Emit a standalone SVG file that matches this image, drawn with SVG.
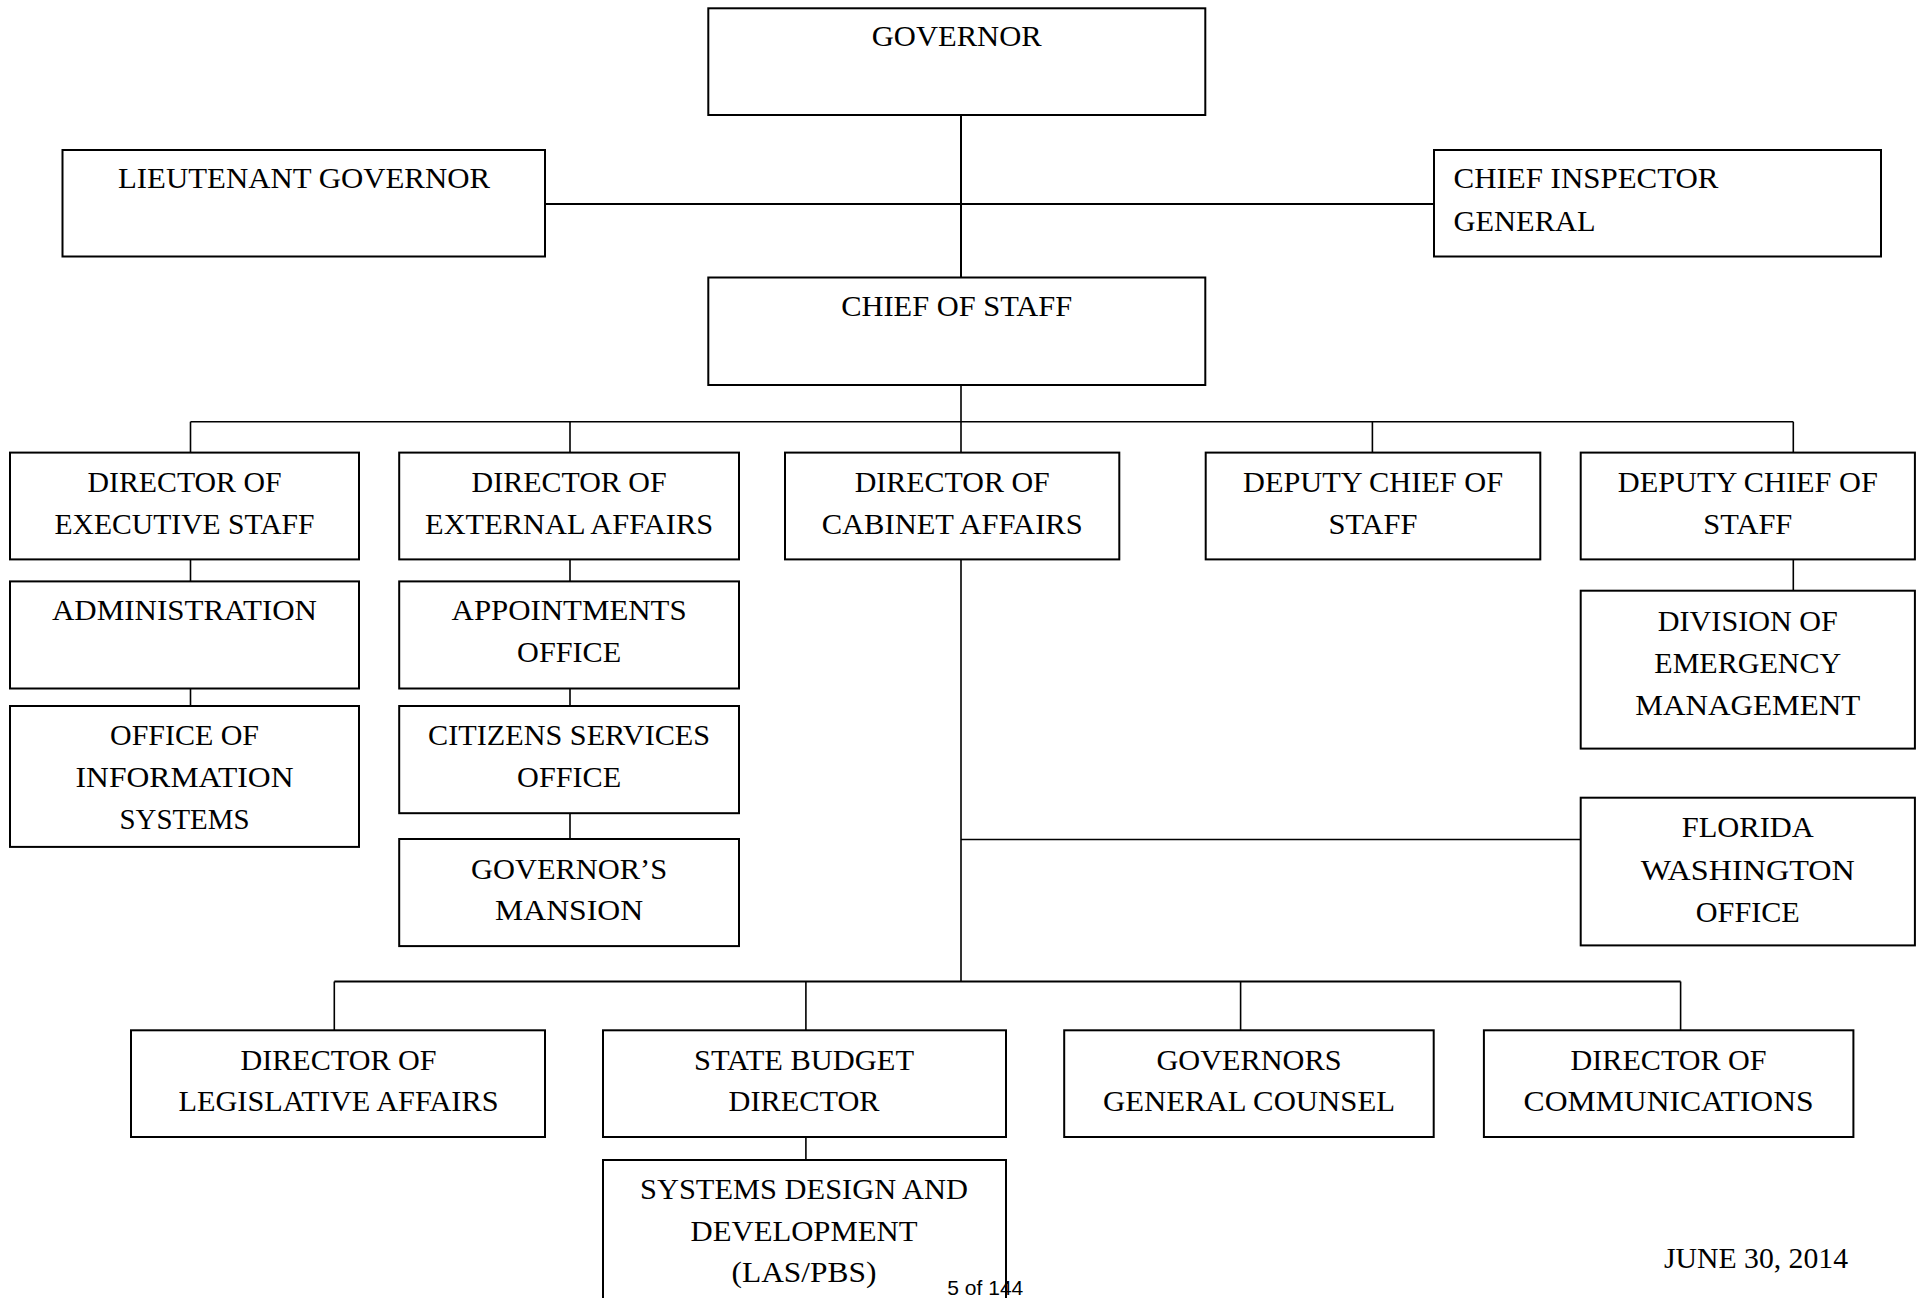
<svg xmlns="http://www.w3.org/2000/svg" width="1921" height="1298" viewBox="0 0 1921 1298">
  <style>
    .box { fill: #ffffff; stroke: #000000; stroke-width: 2; }
    .lbl { font-family: "Liberation Serif", "Times New Roman", serif; font-size: 29px; fill: #000000; text-anchor: middle; }
    .left { text-anchor: start; }
    .wire { fill: none; stroke: #000000; stroke-width: 1.6; }
    .wire-bold { fill: none; stroke: #000000; stroke-width: 2; }
    .page { font-family: "Liberation Sans", Arial, sans-serif; font-size: 21px; fill: #000000; }
  </style>
  <rect width="1921" height="1298" fill="#ffffff"/>

  <!-- connectors -->
  <g id="connectors">
    <path class="wire-bold" d="M961 115 V277.5 M545 204 H1434"/>
    <path class="wire" d="M961 385 V421.7 M190.5 421.7 H1793.3 M190.5 421.7 V452.6 M570 421.7 V452.6 M961 421.7 V452.6 M1372.4 421.7 V452.6 M1793.3 421.7 V452.6"/>
    <path class="wire" d="M190.5 559.4 V581.4 M190.5 688.5 V706"/>
    <path class="wire" d="M570 559.4 V581.4 M570 688.5 V706 M570 813.2 V839"/>
    <path class="wire" d="M1793.3 559.4 V590.7"/>
    <path class="wire" d="M961 559.4 V981.5 M961 839.5 H1580.7"/>
    <path class="wire-bold" d="M334.3 981.5 H1680.6"/>
    <path class="wire" d="M334.3 981.5 V1030.3 M805.9 981.5 V1030.3 M1240.6 981.5 V1030.3 M1680.6 981.5 V1030.3 M805.9 1137 V1160"/>
  </g>

  <!-- top level -->
  <g id="governor">
    <rect class="box" x="708.3" y="8.3" width="497" height="106.7"/>
    <text class="lbl" x="956.7" y="46" textLength="170" lengthAdjust="spacingAndGlyphs">GOVERNOR</text>
  </g>
  <g id="lieutenant-governor">
    <rect class="box" x="62.5" y="150" width="482.5" height="106.5"/>
    <text class="lbl" x="304" y="188" textLength="372" lengthAdjust="spacingAndGlyphs">LIEUTENANT GOVERNOR</text>
  </g>
  <g id="chief-inspector-general">
    <rect class="box" x="1434" y="150" width="447" height="106.5"/>
    <text class="lbl left" x="1453.5" y="188" textLength="265" lengthAdjust="spacingAndGlyphs">CHIEF INSPECTOR</text>
    <text class="lbl left" x="1453.5" y="230.5" textLength="142" lengthAdjust="spacingAndGlyphs">GENERAL</text>
  </g>
  <g id="chief-of-staff">
    <rect class="box" x="708.3" y="277.5" width="497" height="107.5"/>
    <text class="lbl" x="956.7" y="316" textLength="231" lengthAdjust="spacingAndGlyphs">CHIEF OF STAFF</text>
  </g>

  <!-- directors row -->
  <g id="director-executive-staff">
    <rect class="box" x="10" y="452.6" width="349" height="106.8"/>
    <text class="lbl" x="184.5" y="492.2" textLength="194" lengthAdjust="spacingAndGlyphs">DIRECTOR OF</text>
    <text class="lbl" x="184.5" y="534" textLength="260" lengthAdjust="spacingAndGlyphs">EXECUTIVE STAFF</text>
  </g>
  <g id="director-external-affairs">
    <rect class="box" x="399.2" y="452.6" width="339.8" height="106.8"/>
    <text class="lbl" x="569.1" y="492.2" textLength="195" lengthAdjust="spacingAndGlyphs">DIRECTOR OF</text>
    <text class="lbl" x="569.1" y="534" textLength="288" lengthAdjust="spacingAndGlyphs">EXTERNAL AFFAIRS</text>
  </g>
  <g id="director-cabinet-affairs">
    <rect class="box" x="785" y="452.6" width="334.3" height="106.8"/>
    <text class="lbl" x="952.2" y="492.2" textLength="195" lengthAdjust="spacingAndGlyphs">DIRECTOR OF</text>
    <text class="lbl" x="952.2" y="534" textLength="261" lengthAdjust="spacingAndGlyphs">CABINET AFFAIRS</text>
  </g>
  <g id="deputy-chief-of-staff-1">
    <rect class="box" x="1205.7" y="452.6" width="334.6" height="106.8"/>
    <text class="lbl" x="1373" y="492.2" textLength="260" lengthAdjust="spacingAndGlyphs">DEPUTY CHIEF OF</text>
    <text class="lbl" x="1373" y="534" textLength="89" lengthAdjust="spacingAndGlyphs">STAFF</text>
  </g>
  <g id="deputy-chief-of-staff-2">
    <rect class="box" x="1580.7" y="452.6" width="334.2" height="106.8"/>
    <text class="lbl" x="1747.8" y="492.2" textLength="260" lengthAdjust="spacingAndGlyphs">DEPUTY CHIEF OF</text>
    <text class="lbl" x="1747.8" y="534" textLength="89" lengthAdjust="spacingAndGlyphs">STAFF</text>
  </g>

  <!-- executive staff branch -->
  <g id="administration">
    <rect class="box" x="10" y="581.4" width="349" height="107.1"/>
    <text class="lbl" x="184.5" y="620.3" textLength="265" lengthAdjust="spacingAndGlyphs">ADMINISTRATION</text>
  </g>
  <g id="office-of-information-systems">
    <rect class="box" x="10" y="706" width="349" height="140.9"/>
    <text class="lbl" x="184.5" y="745" textLength="149" lengthAdjust="spacingAndGlyphs">OFFICE OF</text>
    <text class="lbl" x="184.5" y="787" textLength="218" lengthAdjust="spacingAndGlyphs">INFORMATION</text>
    <text class="lbl" x="184.5" y="829" textLength="130" lengthAdjust="spacingAndGlyphs">SYSTEMS</text>
  </g>

  <!-- external affairs branch -->
  <g id="appointments-office">
    <rect class="box" x="399.2" y="581.4" width="339.8" height="107.1"/>
    <text class="lbl" x="569.1" y="620.3" textLength="235" lengthAdjust="spacingAndGlyphs">APPOINTMENTS</text>
    <text class="lbl" x="569.1" y="662.3" textLength="104" lengthAdjust="spacingAndGlyphs">OFFICE</text>
  </g>
  <g id="citizens-services-office">
    <rect class="box" x="399.2" y="706" width="339.8" height="107.2"/>
    <text class="lbl" x="569.1" y="745" textLength="282" lengthAdjust="spacingAndGlyphs">CITIZENS SERVICES</text>
    <text class="lbl" x="569.1" y="787" textLength="104" lengthAdjust="spacingAndGlyphs">OFFICE</text>
  </g>
  <g id="governors-mansion">
    <rect class="box" x="399.2" y="839" width="339.8" height="107.1"/>
    <text class="lbl" x="569.1" y="879" textLength="196" lengthAdjust="spacingAndGlyphs">GOVERNOR’S</text>
    <text class="lbl" x="569.1" y="920.3" textLength="148" lengthAdjust="spacingAndGlyphs">MANSION</text>
  </g>

  <!-- deputy chief of staff branch -->
  <g id="division-of-emergency-management">
    <rect class="box" x="1580.7" y="590.7" width="334.2" height="157.9"/>
    <text class="lbl" x="1747.8" y="631" textLength="180" lengthAdjust="spacingAndGlyphs">DIVISION OF</text>
    <text class="lbl" x="1747.8" y="673.2" textLength="187" lengthAdjust="spacingAndGlyphs">EMERGENCY</text>
    <text class="lbl" x="1747.8" y="715" textLength="225" lengthAdjust="spacingAndGlyphs">MANAGEMENT</text>
  </g>
  <g id="florida-washington-office">
    <rect class="box" x="1580.7" y="797.7" width="334.2" height="147.7"/>
    <text class="lbl" x="1747.8" y="837" textLength="132" lengthAdjust="spacingAndGlyphs">FLORIDA</text>
    <text class="lbl" x="1747.8" y="879.5" textLength="214" lengthAdjust="spacingAndGlyphs">WASHINGTON</text>
    <text class="lbl" x="1747.8" y="921.5" textLength="104" lengthAdjust="spacingAndGlyphs">OFFICE</text>
  </g>

  <!-- cabinet affairs branch -->
  <g id="director-legislative-affairs">
    <rect class="box" x="131" y="1030.3" width="414" height="106.7"/>
    <text class="lbl" x="338.5" y="1070" textLength="196" lengthAdjust="spacingAndGlyphs">DIRECTOR OF</text>
    <text class="lbl" x="338.5" y="1111" textLength="320" lengthAdjust="spacingAndGlyphs">LEGISLATIVE AFFAIRS</text>
  </g>
  <g id="state-budget-director">
    <rect class="box" x="603" y="1030.3" width="403" height="106.7"/>
    <text class="lbl" x="804" y="1070" textLength="220" lengthAdjust="spacingAndGlyphs">STATE BUDGET</text>
    <text class="lbl" x="804" y="1111" textLength="151" lengthAdjust="spacingAndGlyphs">DIRECTOR</text>
  </g>
  <g id="systems-design-and-development">
    <rect class="box" x="603" y="1160" width="403" height="160"/>
    <text class="lbl" x="804" y="1199" textLength="328" lengthAdjust="spacingAndGlyphs">SYSTEMS DESIGN AND</text>
    <text class="lbl" x="804" y="1240.5" textLength="227" lengthAdjust="spacingAndGlyphs">DEVELOPMENT</text>
    <text class="lbl" x="804" y="1282" textLength="145" lengthAdjust="spacingAndGlyphs">(LAS/PBS)</text>
  </g>
  <g id="governors-general-counsel">
    <rect class="box" x="1064.2" y="1030.3" width="369.5" height="106.7"/>
    <text class="lbl" x="1249" y="1070" textLength="185" lengthAdjust="spacingAndGlyphs">GOVERNORS</text>
    <text class="lbl" x="1249" y="1111" textLength="292" lengthAdjust="spacingAndGlyphs">GENERAL COUNSEL</text>
  </g>
  <g id="director-of-communications">
    <rect class="box" x="1483.9" y="1030.3" width="369.5" height="106.7"/>
    <text class="lbl" x="1668.6" y="1070" textLength="196" lengthAdjust="spacingAndGlyphs">DIRECTOR OF</text>
    <text class="lbl" x="1668.6" y="1111" textLength="290" lengthAdjust="spacingAndGlyphs">COMMUNICATIONS</text>
  </g>

  <!-- page footer -->
  <text class="lbl left" x="1664" y="1268" textLength="184" lengthAdjust="spacingAndGlyphs">JUNE 30, 2014</text>
  <text class="page" x="947.3" y="1295" textLength="76" lengthAdjust="spacingAndGlyphs">5 of 144</text>
</svg>
